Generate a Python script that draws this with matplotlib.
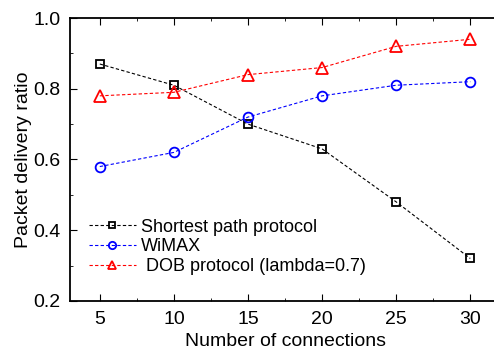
import matplotlib

matplotlib.use("Agg")
import matplotlib.pyplot as plt
from matplotlib.ticker import MultipleLocator

plt.rcParams["font.family"] = ["Liberation Sans", "DejaVu Sans"]

connections = [5, 10, 15, 20, 25, 30]
shortest = [0.87, 0.81, 0.70, 0.63, 0.48, 0.32]
wimax = [0.58, 0.62, 0.72, 0.78, 0.81, 0.82]
dob = [0.78, 0.79, 0.84, 0.86, 0.92, 0.94]

fig = plt.figure(figsize=(4.94, 3.54), dpi=100)
ax = fig.add_axes([0.142, 0.150, 0.87, 0.799])

ax.plot(connections, shortest, "--s", color="black", lw=0.8, ms=6, mfc="none",
        mew=1.3, label="Shortest path protocol", dashes=(3, 2))
ax.plot(connections, wimax, "--o", color="blue", lw=0.8, ms=7, mfc="none",
        mew=1.3, label="WiMAX", dashes=(3, 2))
ax.plot(connections, dob, "--^", color="red", lw=0.8, ms=8, mfc="none",
        mew=1.3, label=" DOB protocol (lambda=0.7)", dashes=(3, 2))

ax.set_xlim(3, 32)
ax.set_ylim(0.2, 1.0)
ax.xaxis.set_major_locator(MultipleLocator(5))
ax.xaxis.set_minor_locator(MultipleLocator(2.5))
ax.yaxis.set_major_locator(MultipleLocator(0.2))
ax.yaxis.set_minor_locator(MultipleLocator(0.1))
ax.tick_params(which="both", direction="in", top=True, labelsize=14, pad=7)
ax.tick_params(which="major", length=5)
ax.tick_params(which="minor", length=2.5)
ax.spines["right"].set_visible(False)
for s in ("left", "bottom", "top"):
    ax.spines[s].set_linewidth(1.3)

ax.set_xlabel("Number of connections", fontsize=14, labelpad=4)
ax.set_ylabel("Packet delivery ratio", fontsize=14, labelpad=1)
leg = ax.legend(loc="lower left", bbox_to_anchor=(0.01, 0.04), frameon=False,
                fontsize=13, handlelength=2.6, labelspacing=0.15, borderpad=0.3,
                handletextpad=0.3, markerscale=0.75)

fig.savefig("out.png", dpi=100)
